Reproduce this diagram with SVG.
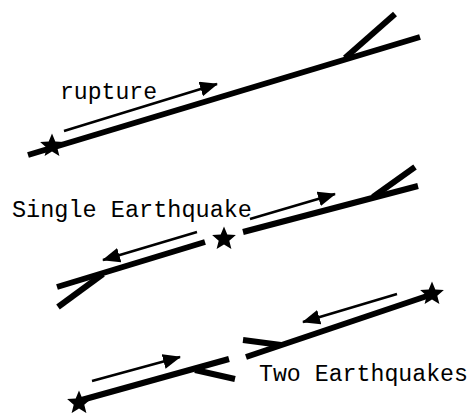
<svg xmlns="http://www.w3.org/2000/svg" xmlns:xlink="http://www.w3.org/1999/xlink" width="472" height="413" viewBox="0 0 472 413">
<style>
.fault{stroke:#000;stroke-width:6;fill:none;stroke-linecap:butt}
.arrow{stroke:#000;stroke-width:2.5;fill:none;marker-end:url(#head)}
.label{font-family:"Liberation Mono","DejaVu Sans Mono",monospace;font-size:23.5px;fill:#000}
</style>
<defs>
<marker id="head" markerUnits="userSpaceOnUse" markerWidth="20" markerHeight="16" refX="17" refY="7.5" orient="auto">
<path d="M0,0 L18,7.5 L0,15 Z" fill="#000"/>
</marker>
<symbol id="star" overflow="visible">
<path d="M0,-12.5 L3.3,-4.5 L11.9,-3.9 L5.3,1.7 L7.4,10.1 L0,5.5 L-7.4,10.1 L-5.3,1.7 L-11.9,-3.9 L-3.3,-4.5 Z" fill="#000"/>
</symbol>
</defs>
<rect width="472" height="413" fill="#fff"/>
<g id="connectors">
<g id="top-panel">
<line class="fault" x1="28" y1="155" x2="420" y2="37"/>
<line class="fault" x1="345" y1="58" x2="395" y2="14"/>
<line class="arrow" x1="64" y1="131" x2="217" y2="84"/>
</g>
<g id="middle-panel">
<line class="fault" x1="243" y1="232" x2="418" y2="186"/>
<line class="fault" x1="373" y1="197" x2="415" y2="167"/>
<line class="fault" x1="57" y1="287" x2="205" y2="242"/>
<line class="fault" x1="103" y1="274" x2="58" y2="307"/>
<line class="arrow" x1="250" y1="219" x2="335" y2="194"/>
<line class="arrow" x1="197" y1="232" x2="103" y2="260"/>
</g>
<g id="bottom-panel">
<line class="fault" x1="246" y1="357" x2="430" y2="295"/>
<line class="fault" x1="243" y1="340" x2="281" y2="345"/>
<line class="fault" x1="78" y1="401" x2="229" y2="359"/>
<line class="fault" x1="195" y1="370" x2="235" y2="379"/>
<line class="arrow" x1="92" y1="381" x2="180" y2="357"/>
<line class="arrow" x1="397" y1="294" x2="303" y2="322"/>
</g>
</g>
<g id="star-top"><use xlink:href="#star" x="52" y="146"/></g>
<g id="star-middle"><use xlink:href="#star" x="224" y="239"/></g>
<g id="star-bottom-right"><use xlink:href="#star" x="432" y="294"/></g>
<g id="star-bottom-left"><use xlink:href="#star" x="79" y="403"/></g>
<g id="label-rupture"><text class="label" x="60" y="99" textLength="97" lengthAdjust="spacingAndGlyphs">rupture</text></g>
<g id="label-single"><text class="label" x="12" y="217" textLength="240" lengthAdjust="spacingAndGlyphs">Single Earthquake</text></g>
<g id="label-two"><text class="label" x="259" y="381" textLength="209" lengthAdjust="spacingAndGlyphs">Two Earthquakes</text></g>
</svg>
